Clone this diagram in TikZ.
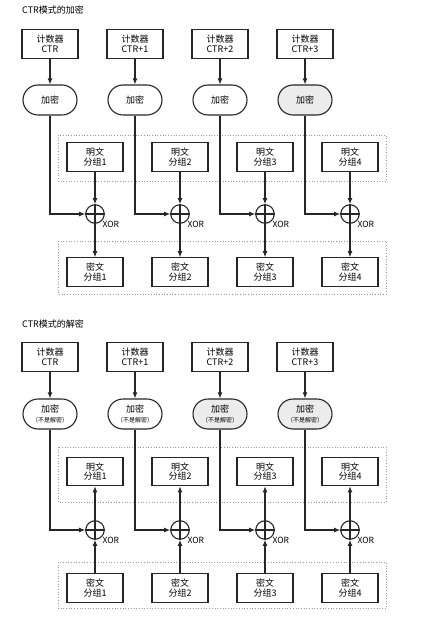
\documentclass[tikz,border=0pt]{standalone}
\usepackage{fontspec}
\setmainfont{Noto Sans CJK SC}
\usetikzlibrary{arrows.meta,shapes.misc}
\tikzset{
  box/.style={draw=black!85,line width=1.1pt,minimum width=56pt,minimum height=28.5pt,inner sep=1pt,align=center,font=\fontsize{9}{9.8}\selectfont},
  enc/.style={draw=black!85,line width=1.1pt,rounded rectangle,minimum width=56pt,minimum height=30pt,inner sep=1pt,align=center,font=\fontsize{9}{9.8}\selectfont},
  greyed/.style={fill=gray!15},
  xorc/.style={draw=black!85,circle,line width=1.1pt,minimum size=18.5pt,inner sep=0pt},
  grp/.style={draw=gray!80,dotted,line width=0.7pt},
  arr/.style={-{Latex[length=6pt,width=5pt]},line width=1.1pt,draw=black!85},
  ln/.style={line width=1.1pt,draw=black!85},
  xorlab/.style={font=\fontsize{8.5}{9}\selectfont,anchor=north west,inner sep=0.5pt},
  ttl/.style={font=\fontsize{9}{9.5}\selectfont,anchor=west,inner sep=0pt}
}
\begin{document}
\begin{tikzpicture}[x=1pt,y=-1pt]
\useasboundingbox (0,0) rectangle (444,617);

% ===== Encryption =====
\node[ttl] (t1) at (22,10) {CTR模式的加密};
\draw[grp] (58,135) rectangle (386,181);
\draw[grp] (58,241) rectangle (386,294);
\foreach \i/\lab in {1/CTR,2/CTR+1,3/CTR+2,4/CTR+3}{
  \pgfmathsetmacro{\cx}{50+85*(\i-1)}
  \pgfmathsetmacro{\px}{95+85*(\i-1)}
  \node[box] (c\i) at (\cx,44) {计数器\\\lab};
  \ifnum\i=4
    \node[enc,greyed] (e\i) at (\cx,100) {加密};
  \else
    \node[enc] (e\i) at (\cx,100) {加密};
  \fi
  \node[box] (p\i) at (\px,157) {明文\\分组\i};
  \node[xorc] (x\i) at (\px,214) {};
  \draw[ln] (x\i.north) -- (x\i.south) (x\i.west) -- (x\i.east);
  \node[xorlab] (xl\i) at (x\i.south east) {XOR};
  \node[box] (k\i) at (\px,272) {密文\\分组\i};
  \draw[arr] (c\i) -- (e\i);
  \draw[arr] (e\i.south) |- (x\i.west);
  \draw[arr] (p\i) -- (x\i);
  \draw[arr] (x\i) -- (k\i);
}

% ===== Decryption =====
\node[ttl] (t2) at (22,324) {CTR模式的解密};
\draw[grp] (58,447) rectangle (386,502);
\draw[grp] (58,562) rectangle (386,608);
\foreach \i/\lab in {1/CTR,2/CTR+1,3/CTR+2,4/CTR+3}{
  \pgfmathsetmacro{\cx}{50+85*(\i-1)}
  \pgfmathsetmacro{\px}{95+85*(\i-1)}
  \node[box] (dc\i) at (\cx,357) {计数器\\\lab};
  \ifnum\i>2
    \node[enc,greyed] (de\i) at (\cx,414) {加密\\{\fontsize{6}{6.5}\selectfont （不是解密）}};
  \else
    \node[enc] (de\i) at (\cx,414) {加密\\{\fontsize{6}{6.5}\selectfont （不是解密）}};
  \fi
  \node[box] (dp\i) at (\px,471.5) {明文\\分组\i};
  \node[xorc] (dx\i) at (\px,530) {};
  \draw[ln] (dx\i.north) -- (dx\i.south) (dx\i.west) -- (dx\i.east);
  \node[xorlab] (dxl\i) at (dx\i.south east) {XOR};
  \node[box] (dk\i) at (\px,588) {密文\\分组\i};
  \draw[arr] (dc\i) -- (de\i);
  \draw[arr] (de\i.south) |- (dx\i.west);
  \draw[arr] (dk\i) -- (dx\i);
  \draw[arr] (dx\i) -- (dp\i);
}
\end{tikzpicture}
\end{document}
